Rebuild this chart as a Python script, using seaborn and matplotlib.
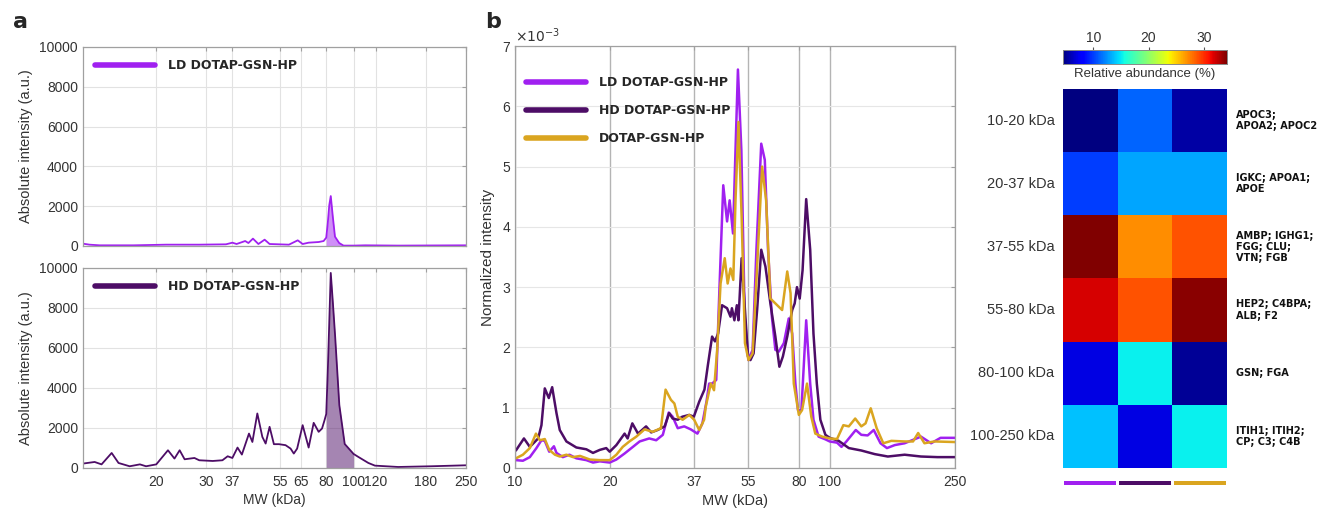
import numpy as np
import pandas as pd
import matplotlib
matplotlib.use("Agg")
import matplotlib.pyplot as plt
import seaborn as sns

# ------------------------------------------------------------
# colours of the three formulations
# ------------------------------------------------------------
LD_COLOR = '#a020f0'
HD_COLOR = '#4d0d66'
DOTAP_COLOR = '#daa520'

# ------------------------------------------------------------
# panel a : absolute intensity (a.u.) vs MW (kDa)
# ------------------------------------------------------------
ld_abs_mw = [11.0, 11.6, 12.6, 16.6, 21.7, 28.4, 35.3, 37.2, 38.5, 41.3,
             42.4, 44.0, 46.0, 48.4, 50.4, 54.4, 59.0, 63.4, 66.0, 69.3,
             75.2, 78.3, 80.0, 81.0, 82.0, 83.0, 84.4, 85.9, 88.9, 92.1,
             100, 110, 144, 250]
ld_abs_int = [117, 67, 34, 34, 67, 67, 84, 167, 100, 250,
              150, 370, 100, 318, 100, 84, 67, 285, 100, 167,
              200, 250, 420, 1150, 2050, 2510, 1470, 470, 150, 20,
              20, 34, 20, 34]

hd_abs_mw = [11.0, 12.1, 12.8, 13.9, 14.7, 16.1, 17.5, 18.4, 20.0, 22.0,
             23.2, 24.2, 25.2, 27.3, 28.4, 31.7, 34.3, 35.8, 37.2, 38.8,
             40.2, 42.6, 43.8, 45.6, 47.5, 48.8, 50.4, 52.2, 54.4, 57.4,
             59.8, 61.4, 63.1, 66.0, 69.3, 72.2, 75.2, 77.3, 78.9, 80.0,
             81.0, 83.0, 84.5, 86.0, 89.0, 93.0, 100, 104, 112.8, 119,
             143.8, 188, 250]
hd_abs_int = [220, 300, 180, 750, 250, 85, 180, 85, 180, 885,
              470, 885, 435, 500, 385, 350, 385, 585, 500, 1020,
              670, 1720, 1300, 2725, 1555, 1220, 2057, 1190, 1190, 1140,
              970, 720, 970, 2140, 1020, 2257, 1806, 1973, 2390, 2700,
              4800, 9750, 8200, 6600, 3150, 1200, 700, 550, 250, 117,
              50, 85, 134]

abs_xticks = [20, 30, 37, 55, 65, 80, 100, 120, 180, 250]
abs_yticks = [0, 2000, 4000, 6000, 8000, 10000]

# ------------------------------------------------------------
# panel b : normalized intensity (x 1e-3) vs MW (kDa)
# ------------------------------------------------------------
ld_norm_mw = [10.07, 10.6, 11.15, 11.7, 12.14, 12.44, 12.85, 13.3, 13.55, 14.2,
              14.9, 15.67, 16.86, 17.7, 18.6, 20.0, 21.0, 22.3, 23.7, 24.9,
              26.7, 28.1, 29.5, 30.8, 31.7, 32.9, 34.5, 36.2, 38.0, 39.4,
              40.6, 41.4, 42.3, 43.6, 44.7, 45.9, 47.2, 48.1, 49.3, 50.2,
              51.1, 52.4, 53.7, 55.2, 56.9, 58.5, 60.6, 62.2, 63.7, 65.5,
              67.2, 68.9, 71.5, 74.1, 76.0, 77.8, 79.3, 81.3, 84.2, 86.7,
              88.8, 92.2, 96.9, 100, 105.5, 109, 113, 121, 126, 132,
              138, 145, 152, 161, 173, 195, 210, 225, 250]
ld_norm = [0.13, 0.12, 0.18, 0.33, 0.46, 0.45, 0.27, 0.36, 0.25, 0.18,
           0.22, 0.16, 0.13, 0.09, 0.11, 0.09, 0.14, 0.24, 0.35, 0.44,
           0.49, 0.46, 0.55, 0.92, 0.85, 0.66, 0.69, 0.64, 0.57, 0.74,
           1.10, 1.40, 1.40, 1.46, 3.06, 4.69, 4.09, 4.44, 3.89, 5.27,
           6.61, 5.27, 2.51, 1.79, 1.96, 3.62, 5.38, 5.11, 3.62, 2.51,
           1.96, 1.93, 2.07, 2.48, 2.23, 1.40, 0.96, 0.96, 2.45, 1.40,
           0.80, 0.52, 0.475, 0.44, 0.42, 0.35, 0.44, 0.63, 0.55, 0.54,
           0.63, 0.41, 0.33, 0.38, 0.41, 0.52, 0.41, 0.50, 0.50]

hd_norm_mw = [10.07, 10.68, 11.15, 11.85, 12.14, 12.44, 12.81, 13.13, 13.55, 13.88,
              14.57, 15.67, 16.86, 17.7, 18.6, 19.5, 20.0, 21.0, 22.3, 22.8,
              23.6, 24.6, 26.1, 27.1, 28.4, 29.9, 30.9, 31.7, 32.9, 34.0,
              35.8, 37.0, 38.5, 40.0, 41.0, 42.3, 43.2, 44.2, 45.5, 47.2,
              48.4, 48.9, 49.8, 50.7, 51.3, 52.5, 53.8, 55.0, 56.0, 57.3,
              58.8, 60.6, 62.5, 64.8, 67.2, 69.2, 71.0, 73.3, 76.0, 77.4,
              78.7, 80.3, 82.0, 84.2, 86.7, 88.8, 91.0, 93.4, 96.9, 100,
              106.8, 115, 126, 139, 153, 173, 195, 220, 250]
hd_norm = [0.29, 0.49, 0.35, 0.49, 0.71, 1.32, 1.16, 1.34, 0.91, 0.63,
           0.44, 0.34, 0.31, 0.25, 0.30, 0.33, 0.27, 0.38, 0.57, 0.49,
           0.74, 0.57, 0.69, 0.59, 0.63, 0.69, 0.91, 0.82, 0.80, 0.85,
           0.88, 0.85, 1.10, 1.30, 1.70, 2.18, 2.10, 2.23, 2.70, 2.65,
           2.51, 2.65, 2.45, 2.70, 2.45, 3.48, 2.62, 1.85, 1.79, 1.90,
           2.62, 3.62, 3.34, 2.73, 2.18, 1.68, 1.85, 2.18, 2.62, 2.73,
           3.00, 2.81, 3.28, 4.46, 3.62, 2.23, 1.40, 0.80, 0.55, 0.50,
           0.45, 0.33, 0.29, 0.23, 0.19, 0.22, 0.19, 0.18, 0.18]

dotap_norm_mw = [10.07, 10.6, 11.15, 11.66, 12.0, 12.44, 12.85, 13.4, 13.88, 14.57,
                 15.3, 16.1, 17.3, 18.6, 20.0, 21.0, 22.0, 23.1, 24.3, 25.8,
                 27.4, 29.1, 30.1, 31.3, 32.1, 32.9, 34.1, 35.8, 37.1, 38.5,
                 39.9, 40.4, 41.9, 42.9, 43.9, 45.0, 46.4, 47.4, 48.4, 49.4,
                 50.2, 51.3, 52.5, 53.8, 55.2, 56.9, 58.8, 61.0, 62.8, 64.8,
                 67.2, 70.6, 73.3, 75.1, 76.9, 79.8, 81.7, 84.7, 87.4, 90.0,
                 94.6, 100, 105.5, 110.5, 115, 120.5, 126, 130, 135, 141,
                 148, 157, 173, 184, 191, 200, 215, 250]
dotap_norm = [0.16, 0.22, 0.33, 0.57, 0.46, 0.48, 0.30, 0.22, 0.19, 0.22,
              0.18, 0.20, 0.14, 0.13, 0.13, 0.22, 0.35, 0.44, 0.52, 0.64,
              0.60, 0.66, 1.30, 1.13, 1.07, 0.85, 0.80, 0.88, 0.80, 0.63,
              0.80, 1.02, 1.40, 1.29, 1.96, 3.06, 3.48, 3.06, 3.31, 3.12,
              4.44, 5.74, 4.17, 2.07, 1.79, 1.90, 3.34, 5.00, 4.44, 2.81,
              2.73, 2.62, 3.26, 2.90, 1.40, 0.88, 0.96, 1.40, 0.85, 0.57,
              0.52, 0.49, 0.48, 0.71, 0.69, 0.82, 0.69, 0.74, 0.99, 0.66,
              0.41, 0.45, 0.44, 0.44, 0.58, 0.41, 0.44, 0.43]

norm_xticks = [10, 20, 37, 55, 80, 100, 250]
norm_yticks = [0, 1, 2, 3, 4, 5, 6, 7]

# ------------------------------------------------------------
# heatmap : relative abundance (%) per MW range
# ------------------------------------------------------------
size_ranges = ['10-20 kDa', '20-37 kDa', '37-55 kDa', '55-80 kDa', '80-100 kDa', '100-250 kDa']
ld_abund = [4.5, 10.0, 34.2, 31.9, 7.1, 13.8]
hd_abund = [11.2, 13.0, 27.1, 28.9, 15.2, 7.1]
dotap_abund = [5.5, 13.0, 28.9, 33.9, 5.1, 15.2]
proteins = ['APOC3;\nAPOA2; APOC2', 'IGKC; APOA1;\nAPOE', 'AMBP; IGHG1;\nFGG; CLU;\nVTN; FGB',
            'HEP2; C4BPA;\nALB; F2', 'GSN; FGA', 'ITIH1; ITIH2;\nCP; C3; C4B']

series_names = ['LD DOTAP-GSN-HP', 'HD DOTAP-GSN-HP', 'DOTAP-GSN-HP']
series_colors = [LD_COLOR, HD_COLOR, DOTAP_COLOR]


sns.set_style('white')
plt.rcParams['font.family'] = ['Liberation Sans', 'DejaVu Sans']
plt.rcParams['axes.unicode_minus'] = False

TICK_COLOR = '#333333'
SPINE_COLOR = '#a0a0a0'
BOLD_FONT = {'family': 'DejaVu Sans', 'weight': 'bold', 'size': 9}

fig = plt.figure(figsize=(13.17, 5.09), dpi=100)

ax_a1 = fig.add_axes([0.0630, 0.5167, 0.2908, 0.391])
ax_a2 = fig.add_axes([0.0630, 0.0806, 0.2908, 0.393])
ax_b = fig.add_axes([0.391, 0.0806, 0.3341, 0.829])
ax_h = fig.add_axes([0.8071, 0.0806, 0.1245, 0.7446])
ax_cb = fig.add_axes([0.8071, 0.8743, 0.1245, 0.0275])
ax_key = fig.add_axes([0.8071, 0.0472, 0.1245, 0.008])


def style_box(ax):
    for sp in ax.spines.values():
        sp.set_visible(True)
        sp.set_color(SPINE_COLOR)
        sp.set_linewidth(0.9)
    ax.tick_params(axis='both', colors=SPINE_COLOR, labelsize=10, direction='in',
                   length=3, top=True, right=True, labelcolor=TICK_COLOR)
    ax.tick_params(axis='x', pad=5)
    ax.tick_params(axis='y', pad=3.5)


# ---------------- panel a ----------------
for ax, mw, val, color, name, bottom in [
        (ax_a1, ld_abs_mw, ld_abs_int, LD_COLOR, 'LD DOTAP-GSN-HP', False),
        (ax_a2, hd_abs_mw, hd_abs_int, HD_COLOR, 'HD DOTAP-GSN-HP', True)]:
    mw_arr = np.array(mw)
    val_arr = np.array(val)
    sns.lineplot(x=mw_arr, y=val_arr, ax=ax, color=color, linewidth=1.3,
                 estimator=None, label=name)
    ax.fill_between(mw_arr, 0, val_arr, where=(mw_arr >= 80) & (mw_arr <= 100),
                    color=color, alpha=0.5, linewidth=0)
    ax.set_xscale('log')
    ax.set_xlim(11, 250)
    ax.set_ylim(0, 10000)
    ax.set_xticks(abs_xticks)
    ax.minorticks_off()
    ax.set_yticks(abs_yticks)
    ax.set_yticklabels([str(t) for t in abs_yticks])
    if bottom:
        ax.set_xticklabels([str(t) for t in abs_xticks])
        ax.set_xlabel('MW (kDa)', fontsize=10, color=TICK_COLOR, labelpad=3)
    else:
        ax.set_xticklabels([])
        ax.set_xlabel('')
    ax.set_ylabel('Absolute intensity (a.u.)', fontsize=10.5, color=TICK_COLOR, labelpad=5)
    ax.grid(True, color='#e2e2e2', linewidth=0.8)
    style_box(ax)
    leg = ax.legend(loc='upper left', frameon=False, handlelength=4.8, handletextpad=1.0,
                    prop=BOLD_FONT, borderaxespad=0.6)
    for h in leg.get_lines():
        h.set_linewidth(4)

# ---------------- panel b ----------------
for mw, val, color, name in [(ld_norm_mw, ld_norm, LD_COLOR, series_names[0]),
                             (hd_norm_mw, hd_norm, HD_COLOR, series_names[1]),
                             (dotap_norm_mw, dotap_norm, DOTAP_COLOR, series_names[2])]:
    sns.lineplot(x=mw, y=val, ax=ax_b, color=color, linewidth=1.8,
                 estimator=None, label=name)
ax_b.set_xscale('log')
ax_b.set_xlim(10, 250)
ax_b.set_ylim(0, 7)
ax_b.set_xticks(norm_xticks)
ax_b.minorticks_off()
ax_b.set_xticklabels([str(t) for t in norm_xticks])
ax_b.set_yticks(norm_yticks)
ax_b.set_yticklabels([str(t) for t in norm_yticks])
ax_b.set_xlabel('MW (kDa)', fontsize=10.5, color=TICK_COLOR, labelpad=4)
ax_b.set_ylabel('Normalized intensity', fontsize=11, color=TICK_COLOR, labelpad=5)
ax_b.grid(True, axis='y', color='#e6e6e6', linewidth=0.8)
ax_b.grid(True, axis='x', color='#b4b4b4', linewidth=1.0)
style_box(ax_b)
ax_b.text(0.0, 1.003, r'$\times10^{-3}$', transform=ax_b.transAxes, ha='left', va='bottom',
          fontsize=10, color=TICK_COLOR)
leg = ax_b.legend(loc='upper left', bbox_to_anchor=(0.0, 0.955), frameon=False,
                  handlelength=4.8, handletextpad=1.0, labelspacing=1.2,
                  prop=BOLD_FONT)
for h in leg.get_lines():
    h.set_linewidth(4)

# ---------------- heatmap ----------------
abund = pd.DataFrame({'LD': ld_abund, 'HD': hd_abund, 'DOTAP': dotap_abund}, index=size_ranges)
sns.heatmap(abund, cmap='jet', ax=ax_h, cbar_ax=ax_cb, xticklabels=False,
            cbar_kws={'orientation': 'horizontal', 'ticks': [10, 20, 30]})
ax_h.set_ylabel('')
ax_h.tick_params(axis='y', length=0, labelsize=10.5, labelcolor=TICK_COLOR, rotation=0, pad=6)
ax_h.tick_params(axis='x', length=0)
for i, txt in enumerate(proteins):
    ax_h.text(3.16, i + 0.5, txt, fontsize=7, fontweight='bold', family='DejaVu Sans',
              va='center', ha='left', color='#111111', linespacing=1.15)

ax_cb.xaxis.set_ticks_position('top')
ax_cb.tick_params(labelsize=10, length=2, pad=1.5, labelcolor=TICK_COLOR, color='#555555')
ax_cb.set_xlabel('Relative abundance (%)', fontsize=9.5, color=TICK_COLOR, labelpad=3)
ax_cb.xaxis.set_label_position('bottom')
for sp in ax_cb.spines.values():
    sp.set_visible(True)
    sp.set_color('#888888')
    sp.set_linewidth(0.6)

# colour key under the heatmap columns
ax_key.bar(range(len(series_colors)), [1] * len(series_colors), width=0.95,
           color=series_colors, edgecolor='none')
ax_key.set_xlim(-0.5, len(series_colors) - 0.5)
ax_key.set_ylim(0, 1)
ax_key.axis('off')

# panel letters
fig.text(0.0099, 0.957, 'a', fontsize=16, fontweight='bold', family='DejaVu Sans', va='center')
fig.text(0.368, 0.957, 'b', fontsize=16, fontweight='bold', family='DejaVu Sans', va='center')

fig.savefig('out.png', dpi=100)
